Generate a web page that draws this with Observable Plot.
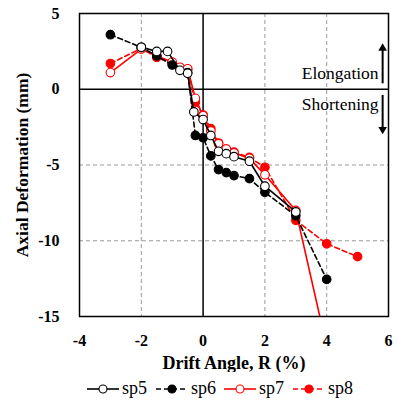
<!DOCTYPE html>
<html>
<head>
<meta charset="utf-8">
<script src="https://cdn.jsdelivr.net/npm/d3@7"></script>
<script src="https://cdn.jsdelivr.net/npm/@observablehq/plot@0.6"></script>
<style>
  html, body { margin: 0; padding: 0; background: white; }
  #legend { position: relative; width: 398px; height: 33px; font-family: 'Liberation Serif'; font-size: 18px; }
  .item { position: absolute; top: 0; height: 33px; display: flex; align-items: center; }
  .item span { margin-left: 3px; }
  #chart svg, #chart svg text { font-family: 'Liberation Serif' !important; }
</style>
</head>
<body>
<div id="chart"></div>
<div id="legend"></div>
<script>
// ---- data ----
const xTicks = [-4, -2, 0, 2, 4, 6];
const yTicks = [5, 0, -5, -10, -15];
const gridX = [-2, 2, 4];
const gridY = [-5, -10];

const sp5X = [-2, -1.5, -1.15, -0.75, -0.5, -0.3, 0, 0.25, 0.5, 0.75, 1, 1.5, 2, 3];
const sp5Y = [2.77, 2.5, 2.5, 1.25, 1.05, -1.5, -2.0, -3.05, -4.1, -4.25, -4.45, -4.75, -6.4, -8.1];

const sp6X = [-3, -2, -1.5, -1, -0.5, -0.25, 0, 0.25, 0.5, 0.75, 1, 1.5, 2, 3, 4];
const sp6Y = [3.6, 2.77, 2.2, 1.6, 1.1, -3.05, -3.2, -4.4, -5.3, -5.5, -5.7, -5.9, -6.8, -8.35, -12.55];

const sp7X = [-3, -2, -1.5, -1, -0.75, -0.5, -0.25, 0, 0.25, 0.5, 0.75, 1, 1.5, 2, 3, 4];
const sp7Y = [1.1, 2.65, 2.2, 1.8, 1.45, 1.35, -0.6, -1.75, -2.75, -3.6, -3.95, -4.2, -4.55, -5.65, -8.0, -17];

const sp8X = [-3, -2, -1.5, -1, -0.75, -0.5, -0.25, 0, 0.25, 0.5, 0.75, 1, 1.5, 2, 3, 4, 5];
const sp8Y = [1.7, 2.7, 2.1, 1.7, 1.4, 1.3, -0.85, -1.7, -2.6, -3.55, -3.95, -4.15, -4.5, -5.15, -8.65, -10.2, -11.05];

const seriesNames = ["sp5", "sp6", "sp7", "sp8"];
const xLabel = "Drift Angle, R (%)";
const yLabel = "Axial Deformation (mm)";
const notes = [
  {text: "Elongation", x: 5.68, y: 1.06},
  {text: "Shortening", x: 5.68, y: -1.0}
];
const arrows = [
  {x: 5.81, y1: 0.36, y2: 2.7, dir: "up"},
  {x: 5.81, y1: -0.41, y2: -2.65, dir: "down"}
];

// ---- styles ----
const FONT = "Liberation Serif";
const styles = {
  sp5: {stroke: "black", fill: "white", dash: null},
  sp6: {stroke: "black", fill: "black", dash: "5,3"},
  sp7: {stroke: "red", fill: "white", dash: null},
  sp8: {stroke: "red", fill: "red", dash: "5,3"}
};

const mk = (xs, ys) => xs.map((x, i) => ({x, y: ys[i]}));
const data = {sp5: mk(sp5X, sp5Y), sp6: mk(sp6X, sp6Y), sp7: mk(sp7X, sp7Y), sp8: mk(sp8X, sp8Y)};

const drawOrder = ["sp8", "sp7", "sp6", "sp5"];
const seriesMarks = drawOrder.flatMap(name => {
  const s = styles[name];
  return [
    Plot.line(data[name], {x: "x", y: "y", stroke: s.stroke, strokeWidth: 1.6, strokeDasharray: s.dash, clip: true}),
    Plot.dot(data[name].filter(d => d.y >= -15), {x: "x", y: "y", r: 4.3, fill: s.fill, stroke: s.stroke, strokeWidth: 1.1})
  ];
});

const fmt = d => d < 0 ? "-" + Math.abs(d) : String(d);

const chart = Plot.plot({
  width: 398,
  height: 372,
  marginLeft: 79,
  marginRight: 10,
  marginTop: 13,
  marginBottom: 56,
  x: {domain: [-4, 6]},
  y: {domain: [-15, 5]},
  style: {fontFamily: FONT, fontSize: "16px", fontWeight: "bold", color: "black", background: "white"},
  marks: [
    Plot.ruleX(gridX, {stroke: "#9a9a9a", strokeWidth: 1, strokeDasharray: "4,3"}),
    Plot.ruleY(gridY, {stroke: "#9a9a9a", strokeWidth: 1, strokeDasharray: "4,3"}),
    Plot.ruleX([0], {stroke: "black", strokeWidth: 1.5}),
    Plot.ruleY([0], {stroke: "black", strokeWidth: 1.5}),
    ...seriesMarks,
    Plot.frame({stroke: "black", strokeWidth: 1.5}),
    Plot.axisX({ticks: xTicks, tickSize: 0, tickPadding: 18, label: null, tickFormat: fmt, fontFamily: FONT}),
    Plot.axisY({ticks: yTicks, tickSize: 0, tickPadding: 20, label: null, tickFormat: fmt, fontFamily: FONT}),
    Plot.text([xLabel], {frameAnchor: "bottom", dy: 47, lineAnchor: "middle", textAnchor: "middle", text: d => d, fontSize: 18, fontWeight: "bold", fontFamily: FONT}),
    Plot.text([yLabel], {frameAnchor: "left", dx: -57, rotate: -90, textAnchor: "middle", lineAnchor: "middle", text: d => d, fontSize: 17.5, fontWeight: "bold", fontFamily: FONT}),
    Plot.text(notes, {x: "x", y: "y", text: "text", textAnchor: "end", fontSize: 17.5, fontWeight: "normal", fontFamily: FONT}),
    Plot.ruleX(arrows, {x: "x", y1: "y1", y2: "y2", stroke: "black", strokeWidth: 2}),
    Plot.dot(arrows, {x: "x", y: "y2", symbol: "triangle", r: 3.2, fill: "black", stroke: "none", rotate: d => d.dir === "up" ? 0 : 180})
  ]
});
chart.setAttribute("font-family", FONT);
document.getElementById("chart").appendChild(chart);

// ---- legend ----
const legend = document.getElementById("legend");
const starts = [87, 156, 224, 293];
seriesNames.forEach((name, i) => {
  const s = styles[name];
  const item = document.createElement("div");
  item.className = "item";
  item.style.left = starts[i] + "px";
  item.innerHTML = `<svg width="32" height="14"><line x1="0" x2="32" y1="7" y2="7" stroke="${s.stroke}" stroke-width="1.6" ${s.dash ? `stroke-dasharray="${s.dash}"` : ""}/><circle cx="16" cy="7" r="4" fill="${s.fill}" stroke="${s.stroke}" stroke-width="1.1"/></svg><span>${name}</span>`;
  legend.appendChild(item);
});
</script>
</body>
</html>
